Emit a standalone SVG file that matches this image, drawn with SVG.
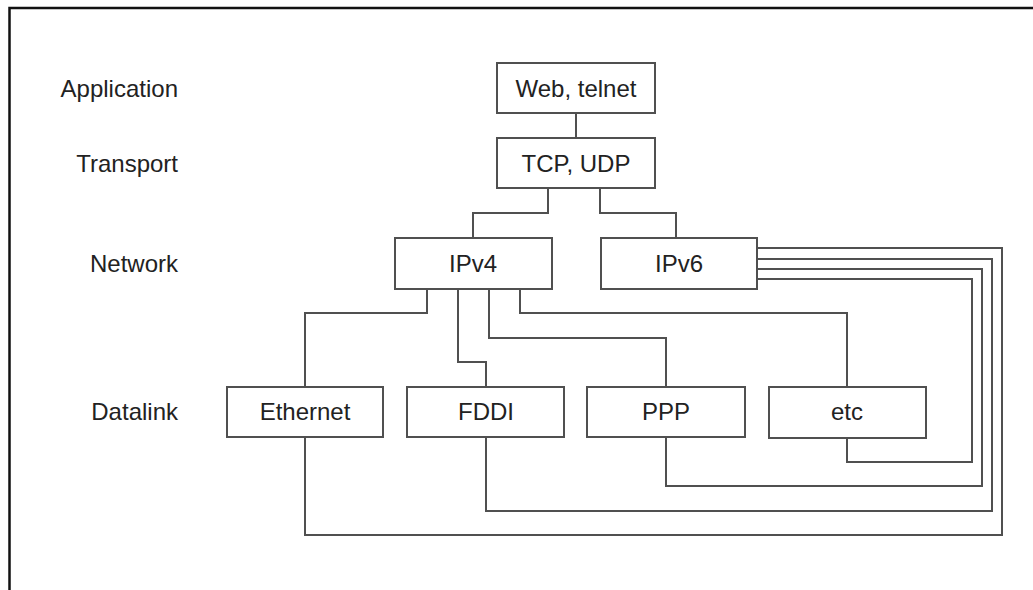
<svg xmlns="http://www.w3.org/2000/svg" width="1033" height="590" viewBox="0 0 1033 590">
<style>
.box{fill:#fff;stroke:#505050;stroke-width:2}
.t{font-family:"Liberation Sans",Arial,Helvetica,sans-serif;font-size:24px;fill:#222;text-anchor:middle}
.lbl{font-family:"Liberation Sans",Arial,Helvetica,sans-serif;font-size:24px;fill:#222;text-anchor:end}
.c{fill:none;stroke:#505050;stroke-width:2}
</style>
<rect width="1033" height="590" fill="#fff"/>
<path d="M9.5 590 V8 H1033" fill="none" stroke="#111" stroke-width="2.5"/>
<g id="layers">
<text class="lbl" x="178" y="97">Application</text>
<text class="lbl" x="178" y="172">Transport</text>
<text class="lbl" x="178" y="272">Network</text>
<text class="lbl" x="178" y="420">Datalink</text>
</g>
<g id="connectors">
<path class="c" d="M576 113 V138"/>
<path class="c" d="M548 188 V213 H473 V238"/>
<path class="c" d="M600 188 V213 H676 V238"/>
<path class="c" d="M427 289 V313 H305 V387"/>
<path class="c" d="M458 289 V362 H486 V387"/>
<path class="c" d="M489 289 V338 H666 V387"/>
<path class="c" d="M520 289 V313 H847 V387"/>
<path class="c" d="M757 248 H1002 V535 H305 V437"/>
<path class="c" d="M757 259 H992 V511 H486 V437"/>
<path class="c" d="M757 269 H982 V486 H666 V437"/>
<path class="c" d="M757 279 H972 V462 H847 V438"/>
</g>
<g id="web"><rect class="box" x="497" y="63" width="158" height="50"/><text class="t" x="576" y="97">Web, telnet</text></g>
<g id="tcp"><rect class="box" x="497" y="138" width="158" height="50"/><text class="t" x="576" y="172">TCP, UDP</text></g>
<g id="ipv4"><rect class="box" x="395" y="238" width="157" height="51"/><text class="t" x="473" y="272">IPv4</text></g>
<g id="ipv6"><rect class="box" x="601" y="238" width="156" height="51"/><text class="t" x="679" y="272">IPv6</text></g>
<g id="ethernet"><rect class="box" x="227" y="387" width="156" height="50"/><text class="t" x="305" y="420">Ethernet</text></g>
<g id="fddi"><rect class="box" x="407" y="387" width="157" height="50"/><text class="t" x="486" y="420">FDDI</text></g>
<g id="ppp"><rect class="box" x="587" y="387" width="158" height="50"/><text class="t" x="666" y="420">PPP</text></g>
<g id="etc"><rect class="box" x="769" y="387" width="157" height="51"/><text class="t" x="847" y="420">etc</text></g>
</svg>
